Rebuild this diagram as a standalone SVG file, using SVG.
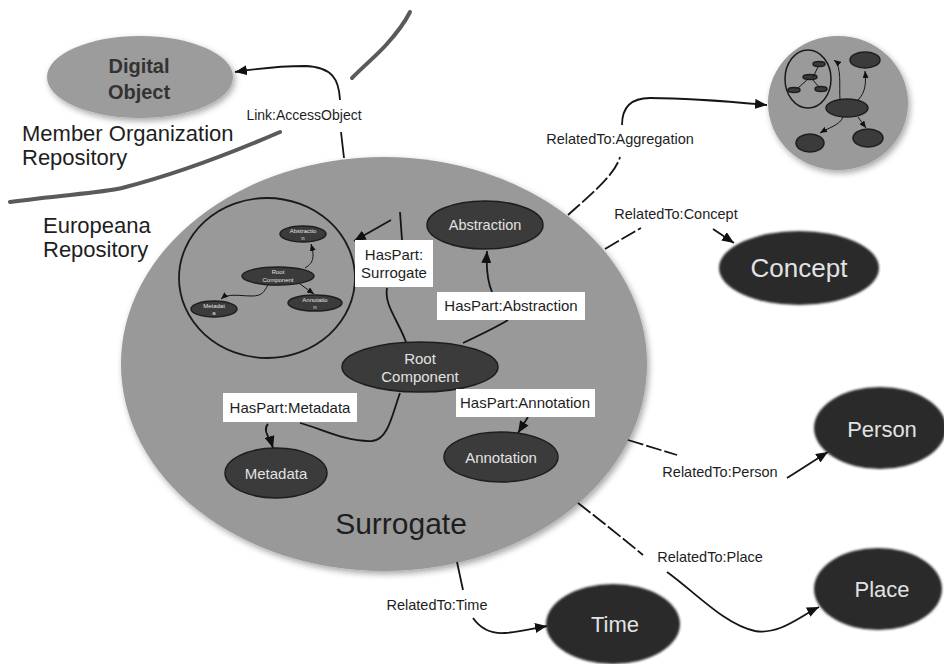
<svg xmlns="http://www.w3.org/2000/svg" width="944" height="664" viewBox="0 0 944 664">
<defs>
<style>
.lbl{font-family:"Liberation Sans",Arial,sans-serif;fill:#1e1e1e;}
.nt{font-family:"Liberation Sans",Arial,sans-serif;fill:#e2e2e2;text-anchor:middle;}
.c{fill:none;stroke:#151515;stroke-width:1.8;}
.d{fill:none;stroke:#151515;stroke-width:1.8;stroke-dasharray:16 3;}
.t{fill:none;stroke:#151515;stroke-width:1;}
.box{fill:#fff;}
.dk{fill:#3b3b3b;stroke:#1e1e1e;stroke-width:1.5;}
.big{fill:#2c2c2c;}
.bnd{fill:none;stroke:#5a5a5a;stroke-width:4;stroke-linecap:round;}
</style>
<marker id="a" markerUnits="userSpaceOnUse" markerWidth="14" markerHeight="10" refX="12" refY="5" orient="auto"><path d="M0,0 L12,5 L0,10 z" fill="#111"/></marker>
<marker id="s" markerUnits="userSpaceOnUse" markerWidth="8" markerHeight="6" refX="7" refY="3" orient="auto"><path d="M0,0 L7,3 L0,6 z" fill="#111"/></marker>
<filter id="sh" x="-10%" y="-10%" width="125%" height="125%"><feDropShadow dx="2" dy="3" stdDeviation="3" flood-color="#000" flood-opacity="0.35"/></filter>
<filter id="bl" x="-10%" y="-10%" width="120%" height="120%"><feGaussianBlur stdDeviation="1.2"/></filter>
</defs>
<rect width="944" height="664" fill="#fff"/>

<g id="boundaries">
<path class="bnd" d="M10,202 C60,195 100,193 122,188 C165,177 220,158 280,132"/>
<path class="bnd" d="M352,78 C365,65 378,54 386,45 C396,34 404,24 410,12"/>
</g>

<g id="surrogate">
<ellipse cx="384" cy="364" rx="263" ry="207" fill="#999" filter="url(#sh)"/>
<text class="lbl" x="401" y="534" font-size="30" text-anchor="middle">Surrogate</text>
</g>

<g id="nested-surrogate">
<ellipse cx="267" cy="278" rx="88" ry="80" fill="none" stroke="#1a1a1a" stroke-width="1.8"/>
<g id="mini-abstraction"><ellipse class="dk" cx="303" cy="234" rx="23" ry="8" stroke-width="1"/><text class="nt" x="303" y="233" font-size="6">Abstractio</text><text class="nt" x="303" y="240" font-size="6">n</text></g>
<g id="mini-root"><ellipse class="dk" cx="278" cy="276" rx="36" ry="9" stroke-width="1"/><text class="nt" x="278" y="274" font-size="6">Root</text><text class="nt" x="278" y="282" font-size="6">Component</text></g>
<g id="mini-metadata"><ellipse class="dk" cx="214" cy="309" rx="23" ry="8" stroke-width="1"/><text class="nt" x="214" y="308" font-size="6">Metadat</text><text class="nt" x="214" y="315" font-size="6">a</text></g>
<g id="mini-annotation"><ellipse class="dk" cx="315" cy="303" rx="27" ry="8" stroke-width="1"/><text class="nt" x="315" y="302" font-size="6">Annotatio</text><text class="nt" x="315" y="309" font-size="6">n</text></g>
</g>

<g id="abstraction"><ellipse class="dk" cx="485" cy="225" rx="58" ry="24"/><text class="nt" x="485" y="230" font-size="14.5">Abstraction</text></g>
<g id="root-component"><ellipse class="dk" cx="420" cy="367" rx="78" ry="25"/><text class="nt" x="420" y="364" font-size="15">Root</text><text class="nt" x="420" y="382" font-size="15">Component</text></g>
<g id="metadata"><ellipse class="dk" cx="276" cy="473" rx="51" ry="25"/><text class="nt" x="276" y="479" font-size="15">Metadata</text></g>
<g id="annotation"><ellipse class="dk" cx="501" cy="457" rx="57" ry="25"/><text class="nt" x="501" y="463" font-size="15">Annotation</text></g>

<g id="digital-object">
<ellipse cx="140" cy="77" rx="93" ry="41" fill="#9c9c9c" filter="url(#sh)"/>
<text x="139" y="73" font-family="Liberation Sans,Arial,sans-serif" font-weight="bold" font-size="20" fill="#333" text-anchor="middle">Digital</text>
<text x="139" y="99" font-family="Liberation Sans,Arial,sans-serif" font-weight="bold" font-size="20" fill="#333" text-anchor="middle">Object</text>
</g>

<g id="repository-labels">
<text class="lbl" x="22" y="141" font-size="22">Member Organization</text>
<text class="lbl" x="22" y="165" font-size="22">Repository</text>
<text class="lbl" x="43" y="233" font-size="22">Europeana</text>
<text class="lbl" x="43" y="257" font-size="22">Repository</text>
</g>

<g id="aggregation">
<ellipse cx="838" cy="103" rx="70" ry="67" fill="#9a9a9a" filter="url(#sh)"/>
<ellipse cx="808" cy="79" rx="23" ry="29" fill="none" stroke="#1a1a1a" stroke-width="1.5"/>
<ellipse class="dk" cx="819" cy="64" rx="6" ry="2.5" stroke-width="0.8"/>
<ellipse class="dk" cx="810" cy="77" rx="7" ry="2.5" stroke-width="0.8"/>
<ellipse class="dk" cx="794" cy="90" rx="6" ry="2.5" stroke-width="0.8"/>
<ellipse class="dk" cx="821" cy="89" rx="6" ry="2.5" stroke-width="0.8"/>
<path class="t" d="M813,77 L818,67 M808,79 L798,88 M812,79 L819,87"/>
<ellipse class="dk" cx="865" cy="60" rx="15" ry="8"/>
<ellipse class="dk" cx="847" cy="108" rx="21" ry="9"/>
<ellipse class="dk" cx="810" cy="143" rx="14" ry="9"/>
<ellipse class="dk" cx="868" cy="138" rx="15" ry="9"/>
<path class="t" d="M858,100 C866,92 866,82 865,71" marker-end="url(#s)"/>
<path class="t" d="M840,100 C839,85 842,66 834,60" marker-end="url(#s)"/>
<path class="t" d="M843,117 C840,125 830,127 820,133" marker-end="url(#s)"/>
<path class="t" d="M858,117 L866,128" marker-end="url(#s)"/>
</g>

<g id="concept"><ellipse class="big" cx="799" cy="268" rx="80" ry="37" filter="url(#bl)"/><text class="nt" x="799" y="277" font-size="26">Concept</text></g>
<g id="person"><ellipse class="big" cx="880" cy="428" rx="66" ry="41" filter="url(#bl)"/><text class="nt" x="882" y="437" font-size="22">Person</text></g>
<g id="place"><ellipse class="big" cx="878" cy="589" rx="64" ry="41" filter="url(#bl)"/><text class="nt" x="882" y="597" font-size="22">Place</text></g>
<g id="time"><ellipse class="big" cx="613" cy="624" rx="67" ry="40" filter="url(#bl)"/><text class="nt" x="615" y="632" font-size="22">Time</text></g>

<g id="connectors">
<path class="c" d="M344,158 L341,132"/>
<path class="c" d="M340,100 C339,80 333,67 305,66 C280,66 255,69 235,72" marker-end="url(#a)"/>
<path class="c" d="M406,342 C398,320 384,305 387,288"/>
<path class="c" d="M402,240 L400,212"/>
<path class="c" d="M391,220 L354,241" marker-end="url(#a)"/>
<path class="c" d="M463,343 C480,335 500,325 508,320"/>
<path class="c" d="M492,292 C487,280 486,268 487,251" marker-end="url(#a)"/>
<path class="c" d="M400,393 C392,415 388,440 372,441 C345,442 320,428 300,423"/>
<path class="c" d="M268,424 C262,430 270,438 273,448" marker-end="url(#a)"/>
<path class="c" d="M528,417 L518,433" marker-end="url(#a)"/>
<path class="t" d="M305,268 C315,262 314,255 311,244" marker-end="url(#s)"/>
<path class="t" d="M300,284 L314,294" marker-end="url(#s)"/>
<path class="t" d="M268,285 C264,292 262,296 252,296 C240,296 228,293 221,299" marker-end="url(#s)"/>
<path class="d" d="M568,215 C590,195 615,175 620,157"/>
<path class="c" d="M622,125 C622,108 630,98 650,98 C690,98 735,102 767,105" marker-end="url(#a)"/>
<path class="d" d="M605,249 C620,240 632,233 641,228"/>
<path class="c" d="M713,229 L734,243" marker-end="url(#a)"/>
<path class="d" d="M628,440 L677,455"/>
<path class="c" d="M787,478 C800,470 815,460 828,452" marker-end="url(#a)"/>
<path class="d" d="M578,503 C600,520 625,540 643,555"/>
<path class="c" d="M667,572 C695,592 725,625 755,631 C780,635 800,616 819,607" marker-end="url(#a)"/>
<path class="c" d="M457,562 L463,590"/>
<path class="c" d="M473,618 C480,628 490,634 505,633 C520,632 535,628 547,626" marker-end="url(#a)"/>
</g>

<g id="labels">
<rect class="box" x="355" y="240" width="78" height="47"/>
<text class="lbl" x="394" y="260" font-size="15" text-anchor="middle">HasPart:</text>
<text class="lbl" x="394" y="278" font-size="15" text-anchor="middle">Surrogate</text>
<rect class="box" x="437" y="292" width="148" height="28"/>
<text class="lbl" x="511" y="311" font-size="15" text-anchor="middle">HasPart:Abstraction</text>
<rect class="box" x="223" y="393" width="134" height="29"/>
<text class="lbl" x="290" y="413" font-size="15" text-anchor="middle">HasPart:Metadata</text>
<rect class="box" x="456" y="389" width="139" height="28"/>
<text class="lbl" x="525" y="408" font-size="15" text-anchor="middle">HasPart:Annotation</text>
<text class="lbl" x="304" y="120" font-size="14" text-anchor="middle">Link:AccessObject</text>
<text class="lbl" x="620" y="144" font-size="14.5" text-anchor="middle">RelatedTo:Aggregation</text>
<text class="lbl" x="676" y="219" font-size="14.5" text-anchor="middle">RelatedTo:Concept</text>
<text class="lbl" x="720" y="477" font-size="14.5" text-anchor="middle">RelatedTo:Person</text>
<text class="lbl" x="710" y="562" font-size="14.5" text-anchor="middle">RelatedTo:Place</text>
<text class="lbl" x="437" y="610" font-size="14.5" text-anchor="middle">RelatedTo:Time</text>
</g>
</svg>
